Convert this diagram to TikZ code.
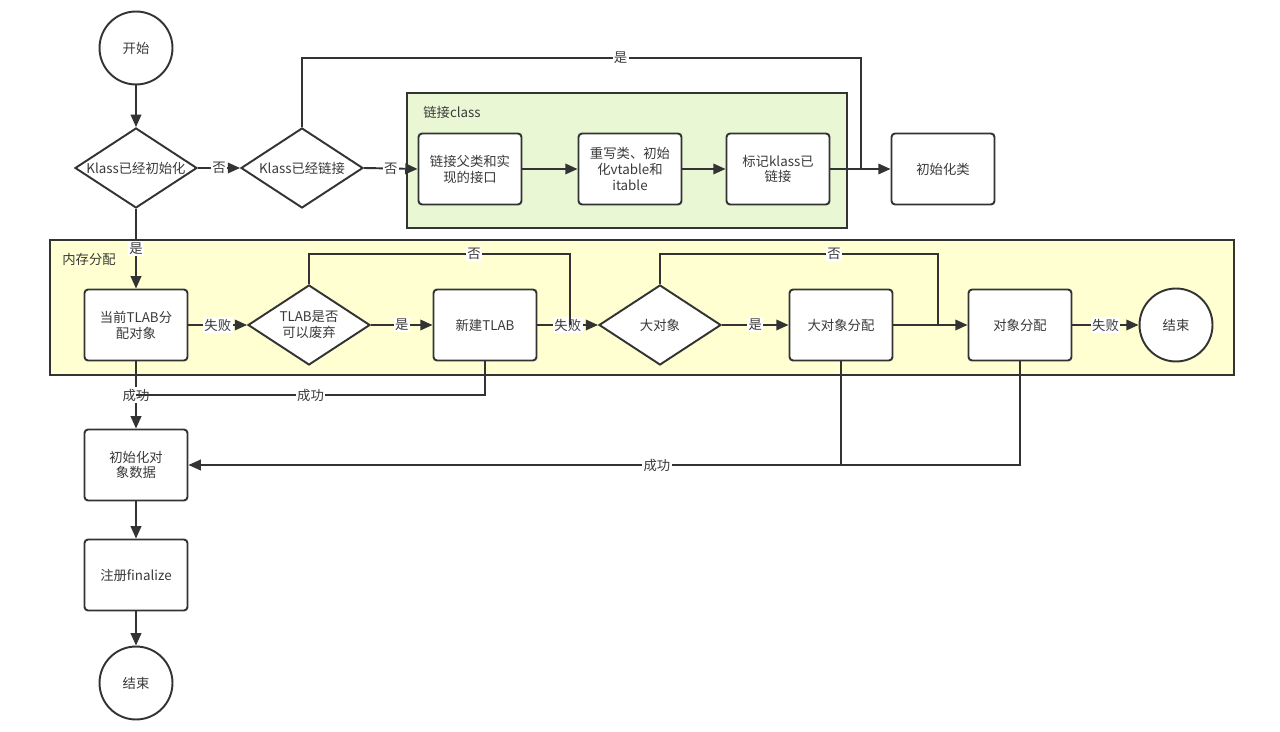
\documentclass[tikz,border=0pt]{standalone}
\usepackage{fontspec}
\setmainfont{Noto Sans CJK SC}
\usetikzlibrary{shapes.geometric,arrows.meta}
\definecolor{ink}{HTML}{333333}
\definecolor{txt}{HTML}{3A3A3A}
\definecolor{grp1}{HTML}{E9F7D4}
\definecolor{grp2}{HTML}{FFFFD1}
\tikzset{
  every node/.style={font=\fontsize{7.6}{9}\selectfont, text=txt},
  box/.style={draw=ink, line width=1.1pt, fill=white, rounded corners=2pt, rectangle,
    minimum width=2.06cm, minimum height=1.42cm, align=center, inner sep=1pt},
  dia/.style={draw=ink, line width=1.1pt, fill=white, diamond, inner sep=0pt,
    minimum width=2.44cm, minimum height=1.6cm},
  diatext/.style={align=center},
  term/.style={draw=ink, line width=1.1pt, fill=white, circle, minimum size=1.46cm, inner sep=0pt},
  grpbox/.style={draw=ink, line width=1.1pt},
  conn/.style={draw=ink, line width=1.1pt},
  arr/.style={conn, -{Triangle[length=7pt,width=6pt]}},
  lbl/.style={fill=white, inner sep=0.8pt},
  grplbl/.style={anchor=west, inner sep=0pt}
}
\begin{document}
\begin{tikzpicture}[x=0.02cm, y=-0.02cm]
\useasboundingbox (0,0) rectangle (1280,732);
% groups
\path[grpbox, fill=grp1] (407,93) rectangle (847,228);
\node[grplbl] (g1) at (423,112) {链接class};
\path[grpbox, fill=grp2] (50,240) rectangle (1234,375);
\node[grplbl] (g2) at (62,259) {内存分配};

% top row
\node[term] (start) at (136,48) {开始};
\node[dia] (d1) at (136,168) {};
\node[diatext] (d1t) at (d1) {Klass已经初始化};
\node[dia] (d2) at (302,168) {};
\node[diatext] (d2t) at (d2) {Klass已经链接};
\node[box] (b1) at (470,169) {链接父类和实\\现的接口};
\node[box] (b2) at (630,169) {重写类、初始\\化vtable和\\itable};
\node[box] (b3) at (778,169) {标记klass已\\链接};
\node[box] (init) at (943,169) {初始化类};

% memory row
\node[box] (A) at (136,325) {当前TLAB分\\配对象};
\node[dia] (dT) at (309,325) {};
\node[diatext] (dTt) at (dT) {TLAB是否\\可以废弃};
\node[box] (nT) at (485,325) {新建TLAB};
\node[dia] (dB) at (660,325) {};
\node[diatext] (dBt) at (dB) {大对象};
\node[box] (LA) at (841,325) {大对象分配};
\node[box] (OA) at (1020,325) {对象分配};
\node[term] (end2) at (1176,325) {结束};

% bottom column
\node[box] (initO) at (136,465) {初始化对\\象数据};
\node[box] (reg) at (136,575) {注册finalize};
\node[term] (end1) at (136,683) {结束};

% helper coordinates
\coordinate (yesR) at (861,58);
\coordinate (noT) at (570,254);
\coordinate (noB) at (938,254);
\coordinate (j1) at (136,395);
\coordinate (j2) at (841,465);

% connectors
\draw[arr] (start) -- (d1);
\draw[arr] (d1.east) -- node[lbl]{否} (d2.west);
\draw[arr] (d2.east) -- node[lbl]{否} (b1.west);
\draw[conn] (d2.north) |- node[lbl,pos=0.785]{是} (yesR) -- (yesR |- init.west);
\draw[arr] (b1) -- (b2);
\draw[arr] (b2) -- (b3);
\draw[arr] (b3) -- (init);

\draw[arr] (d1.south) -- node[lbl]{是} (A.north);
\draw[arr] (A) -- node[lbl]{失败} (dT.west);
\draw[arr] (dT.east) -- node[lbl]{是} (nT);
\draw[arr] (nT) -- node[lbl]{失败} (dB.west);
\draw[conn] (dT.north) |- node[lbl,pos=0.816]{否} (noT) -- (noT |- dB.west);
\draw[arr] (dB.east) -- node[lbl]{是} (LA);
\draw[arr] (LA) -- (OA);
\draw[conn] (dB.north) |- node[lbl,pos=0.813]{否} (noB) -- (noB |- OA.west);
\draw[arr] (OA) -- node[lbl]{失败} (end2);

\draw[arr] (A.south) -- node[lbl]{成功} (initO.north);
\draw[conn] (nT.south) |- node[lbl,pos=0.75]{成功} (j1);
\draw[arr] (LA.south) |- node[lbl,pos=0.641]{成功} (initO.east);
\draw[conn] (OA.south) |- (j2);
\draw[arr] (initO) -- (reg);
\draw[arr] (reg) -- (end1);
\end{tikzpicture}
\end{document}
